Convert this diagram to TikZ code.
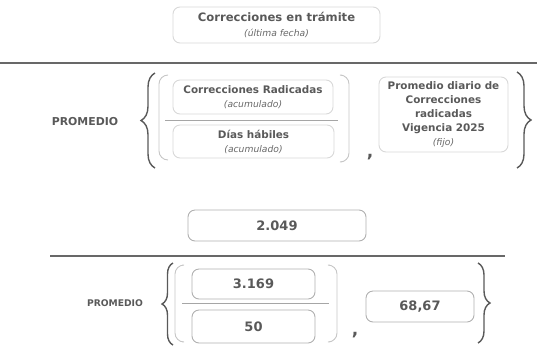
\documentclass[tikz,border=0pt]{standalone}
\usepackage{fontspec}
\setmainfont{DejaVu Sans}
\usetikzlibrary{decorations.pathreplacing}

\definecolor{txtgray}{HTML}{595959}
\definecolor{subgray}{HTML}{686868}
\definecolor{boxgray}{HTML}{D8D8D8}
\definecolor{boxdark}{HTML}{B0B0B0}
\definecolor{rulegray}{HTML}{686868}
\definecolor{pargray}{HTML}{C6C6C6}

\newcommand{\subtxt}[1]{{\fontsize{9.2}{10}\selectfont\mdseries\itshape\color{subgray}#1}}

\begin{document}
\begin{tikzpicture}[x=1pt,y=-1pt,
        cajon/.style={draw=boxgray,line width=0.9pt,rounded corners=7pt,align=center,
          text=txtgray,inner sep=0pt,font=\fontsize{10.4}{14}\selectfont\bfseries},
        cajonb/.style={cajon,draw=boxdark,font=\fontsize{13}{15}\selectfont\bfseries},
        llave/.style={draw=txtgray,line width=1.4pt,decorate,decoration={brace,amplitude=#1}},
        llave/.default=14pt,
        parent/.style={draw=pargray,line width=0.9pt,rounded corners=9pt},
        raya/.style={draw=rulegray,line width=1.8pt},
        fraccion/.style={draw=gray!70,line width=0.9pt},
        coma/.style={font=\fontsize{17}{17}\selectfont\bfseries,text=txtgray,anchor=base}]
        	\useasboundingbox (0,0) rectangle (537,346);

        	% formula
        	\node[cajon,minimum width=207pt,minimum height=36pt,font=\fontsize{11.6}{15}\selectfont\bfseries]
        	  (tramite) at (276.5,25) {Correcciones en trámite\\\subtxt{(última fecha)}};
        	\draw[raya] (0,63) -- (537,63);

        	\node[font=\fontsize{10.9}{13}\selectfont\bfseries,text=txtgray] (prom1) at (85,122) {PROMEDIO};
        	\draw[llave] (155,168) -- (155,73);
        	\draw[parent] (168,75) -- (159,75) -- (159,160) -- (168,160);
        	\node[cajon,minimum width=160pt,minimum height=34pt]
        	  (radicadas) at (253,97) {Correcciones Radicadas\\\subtxt{(acumulado)}};
        	\draw[fraccion] (165,120) -- (338,120);
        	\node[cajon,minimum width=161pt,minimum height=33pt]
        	  (habiles) at (253.5,141.5) {Días hábiles\\\subtxt{(acumulado)}};
        	\draw[parent] (342,75) -- (349,75) -- (349,162) -- (342,162);
        	\node[coma] (coma1) at (370,157) {,};
        	\node[cajon,minimum width=129pt,minimum height=75pt] (vigencia) at (443.5,114.5)
        	  {Promedio diario de\\Correcciones\\radicadas\\Vigencia 2025\\\subtxt{(fijo)}};
        	\draw[llave] (517,72) -- (517,168);

        	% valores
        	\node[cajonb,minimum width=178pt,minimum height=31pt] (total) at (277,225.5) {2.049};
        	\draw[raya] (50,256) -- (505,256);

        	\node[font=\fontsize{9.2}{11}\selectfont\bfseries,text=txtgray] (prom2) at (115,303) {PROMEDIO};
        	\draw[llave=11pt] (173,345) -- (173,263);
        	\draw[parent] (182,265) -- (175,265) -- (175,342) -- (182,342);
        	\node[cajonb,minimum width=123pt,minimum height=30pt] (acum) at (253.5,284) {3.169};
        	\draw[fraccion] (182,303) -- (329,303);
        	\node[cajonb,minimum width=123pt,minimum height=33pt] (dias) at (253.5,326.5) {50};
        	\draw[parent] (330,265) -- (337,265) -- (337,342) -- (330,342);
        	\node[coma] (coma2) at (355,335) {,};
        	\node[cajonb,minimum width=108pt,minimum height=31pt] (fijo) at (420,306.5) {68,67};
        	\draw[llave=12pt] (478,263) -- (478,343);
        \end{tikzpicture}
\end{document}
